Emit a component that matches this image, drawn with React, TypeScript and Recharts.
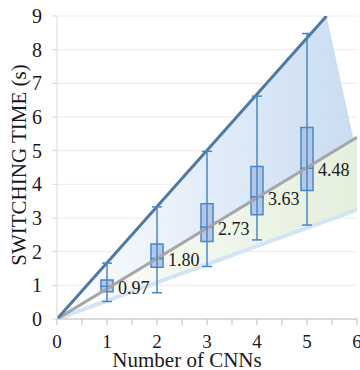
import React from 'react';
import {
  ComposedChart, XAxis, YAxis, CartesianGrid, Line, Area, Bar, Scatter, ErrorBar, LabelList, Label,
} from 'recharts';

// Box plot values (switching time, seconds) per number of CNNs
const cnnCounts = [1, 2, 3, 4, 5];
const whiskerMin = [0.52, 0.78, 1.56, 2.35, 2.79];
const quartile1 = [0.81, 1.54, 2.30, 3.10, 3.82];
const medians = [0.97, 1.80, 2.73, 3.63, 4.48];
const quartile3 = [1.16, 2.23, 3.42, 4.53, 5.69];
const whiskerMax = [1.66, 3.33, 4.98, 6.62, 8.48];

// Reference lines (x, y)
const upperLineX = [0, 5.39];
const upperLineY = [0, 9];
const midLineX = [0, 6];
const midLineY = [0, 5.4];
const lowLineX = [0, 6];
const lowLineY = [0, 3.25];

// Shaded bands
const blueBandX = [0, 5.39, 5.93];
const blueBandLow = [0, 4.85, 5.34];
const blueBandHigh = [0, 9, 5.34];
const greenBandX = [0, 6];
const greenBandLow = [0, 3.25];
const greenBandHigh = [0, 5.4];

const xTicks = [0, 0.5, 1, 1.5, 2, 2.5, 3, 3.5, 4, 4.5, 5, 5.5, 6];
const yTicks = [0, 1, 2, 3, 4, 5, 6, 7, 8, 9];

const boxData = cnnCounts.map((x, i) => ({
  x,
  med: medians[i],
  base: quartile1[i],
  lo: medians[i] - quartile1[i],
  hi: quartile3[i] - medians[i],
  err: [medians[i] - whiskerMin[i], whiskerMax[i] - medians[i]],
}));

const toPoints = (xs: number[], ys: number[]) => xs.map((x, i) => ({ x, y: ys[i] }));
const toBand = (xs: number[], lo: number[], hi: number[]) => xs.map((x, i) => ({ x, r: [lo[i], hi[i]] }));

const SERIF = '"Liberation Serif", "Times New Roman", serif';
const BOX_STROKE = '#4a87c9';
const BOX_FILL = '#b4c7e7';

const renderMedianLabel = (props: any) => {
  const { x, y, width, height, value } = props;
  const yy = Number(y) + Number(height);
  return (
    <text x={Number(x) + Number(width) + 5} y={yy + 8} fontFamily={SERIF} fontSize={18} fill="#1a1a1a">
      {Number(value).toFixed(2)}
    </text>
  );
};

export default function App() {
  return (
    <div style={{ position: 'absolute', left: 0, top: 0, width: 360, height: 370 }}>
      <ComposedChart
        width={360}
        height={370}
        data={boxData}
        margin={{ top: 16, right: 3, left: 0, bottom: 0 }}
      >
        <defs>
          <linearGradient id="blueFill" x1="0" y1="0" x2="1" y2="0">
            <stop offset="0%" stopColor="#fdfeff" />
            <stop offset="100%" stopColor="#c3d9f0" />
          </linearGradient>
          <linearGradient id="greenFill" x1="0" y1="0" x2="1" y2="0">
            <stop offset="0%" stopColor="#fdfefc" />
            <stop offset="100%" stopColor="#e2eed8" />
          </linearGradient>
        </defs>
        <CartesianGrid vertical={false} stroke="#ececec" strokeWidth={1} />
        <XAxis
          dataKey="x"
          type="number"
          domain={[0, 6]}
          ticks={xTicks}
          allowDataOverflow
          height={51}
          stroke="#bfbfbf"
          tickSize={6}
          tickMargin={10}
          tick={{ fontFamily: SERIF, fontSize: 19, fill: '#1a1a1a' }}
          tickFormatter={(v: number) => (Number.isInteger(v) ? String(v) : '')}
          interval={0}
        >
          <Label
            content={() => (
              <text x={187} y={367} textAnchor="middle" fontFamily={SERIF} fontSize={21} fill="#1a1a1a">
                Number of CNNs
              </text>
            )}
          />
        </XAxis>
        <XAxis
          xAxisId="box"
          dataKey="x"
          type="number"
          domain={[0, 6]}
          ticks={[0, 1, 2, 3, 4, 5, 6]}
          allowDataOverflow
          hide
        />
        <YAxis
          type="number"
          domain={[0, 9]}
          ticks={yTicks}
          allowDataOverflow
          width={57}
          stroke="#d9d9d9"
          tickSize={5}
          tickMargin={10}
          tick={{ fontFamily: SERIF, fontSize: 20, fill: '#1a1a1a' }}
          interval={0}
        >
          <Label
            content={() => (
              <text
                transform="translate(26,165) rotate(-90)"
                textAnchor="middle"
                fontFamily={SERIF}
                fontSize={21}
                fill="#1a1a1a"
              >
                SWITCHING TIME (s)
              </text>
            )}
          />
        </YAxis>

        <Area
          data={toBand(blueBandX, blueBandLow, blueBandHigh)}
          dataKey="r"
          type="linear"
          stroke="none"
          fill="url(#blueFill)"
          fillOpacity={0.9}
          isAnimationActive={false}
        />
        <Area
          data={toBand(greenBandX, greenBandLow, greenBandHigh)}
          dataKey="r"
          type="linear"
          stroke="none"
          fill="url(#greenFill)"
          fillOpacity={0.9}
          isAnimationActive={false}
        />
        <Line
          data={toPoints(lowLineX, lowLineY)}
          dataKey="y"
          type="linear"
          stroke="#d3e4f4"
          strokeWidth={4}
          dot={false}
          isAnimationActive={false}
        />
        <Line
          data={toPoints(midLineX, midLineY)}
          dataKey="y"
          type="linear"
          stroke="#a6a6a6"
          strokeWidth={3}
          dot={false}
          isAnimationActive={false}
        />
        <Line
          data={toPoints(upperLineX, upperLineY)}
          dataKey="y"
          type="linear"
          stroke="#4f79a3"
          strokeWidth={3}
          dot={false}
          isAnimationActive={false}
        />
        <Scatter xAxisId="box" dataKey="med" shape={() => <g />} isAnimationActive={false}>
          <ErrorBar dataKey="err" direction="y" width={5} stroke={BOX_STROKE} strokeWidth={1.5} />
        </Scatter>
        <Bar xAxisId="box" dataKey="base" stackId="box" fill="transparent" barSize={12} isAnimationActive={false} />
        <Bar xAxisId="box" dataKey="lo" stackId="box" fill={BOX_FILL} stroke={BOX_STROKE} strokeWidth={1.5} barSize={12} isAnimationActive={false} />
        <Bar xAxisId="box" dataKey="hi" stackId="box" fill={BOX_FILL} stroke={BOX_STROKE} strokeWidth={1.5} barSize={12} isAnimationActive={false}>
          <LabelList dataKey="med" content={renderMedianLabel} />
        </Bar>
      </ComposedChart>
    </div>
  );
}
